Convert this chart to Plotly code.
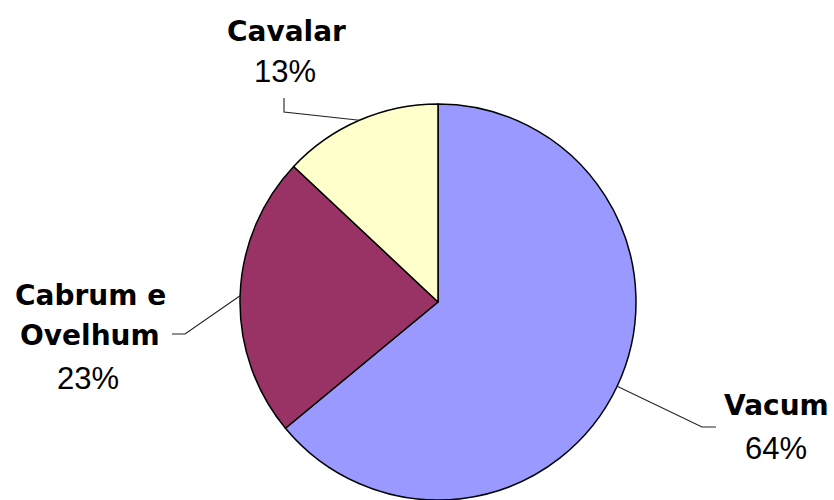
import math
import plotly.graph_objects as go

# ---- data ----
categories = ["Vacum", "Cabrum e<br>Ovelhum", "Cavalar"]
values = [64, 23, 13]
pct_labels = ["64%", "23%", "13%"]
colors = ["#9999FF", "#993366", "#FFFFCC"]

# ---- layout constants (pixels) ----
W, H = 834, 500
R = 198
CX = 438
CY = H - R  # pie sits on the bottom edge
dom_x = [(CX - R) / W, (CX + R) / W]
dom_y = [0, 2 * R / H]
LINE_GAP = 40

# label anchors (px) : first name line centre, percent centre, elbow point, tail end
name_pos = [(776, 405), (90, 295), (286, 31)]
pct_pos = [(776, 448), (88, 378), (285, 71)]
elbow = [(702, 427), (185, 334), (284, 112)]
tail = [(716, 427), (172, 334), (284, 98)]


def px2paper(x, y):
    return x / W, 1 - y / H


fig = go.Figure(go.Pie(
    labels=categories,
    values=values,
    sort=False,
    direction="clockwise",
    rotation=0,
    marker=dict(colors=colors, line=dict(color="black", width=1.5)),
    textinfo="none",
    hoverinfo="label+percent",
    domain=dict(x=dom_x, y=dom_y),
    showlegend=False,
))

total = sum(values)
cum = 0
annotations = []
shapes = []
for i, v in enumerate(values):
    mid = (cum + v / 2) / total * 2 * math.pi
    cum += v
    sx = CX + R * math.sin(mid)
    sy = CY - R * math.cos(mid)
    pts = [(sx, sy), elbow[i], tail[i]]
    path = ""
    for j, (x, y) in enumerate(pts):
        px_, py_ = px2paper(x, y)
        path += ("M" if j == 0 else " L") + f" {px_:.5f} {py_:.5f}"
    shapes.append(dict(type="path", xref="paper", yref="paper", path=path,
                       line=dict(color="#222222", width=1.1)))
    for k, line in enumerate(categories[i].split("<br>")):
        nx, ny = px2paper(name_pos[i][0], name_pos[i][1] + k * LINE_GAP)
        annotations.append(dict(x=nx, y=ny, xref="paper", yref="paper",
                                text="<b>" + line + "</b>", showarrow=False,
                                xanchor="center", yanchor="middle",
                                font=dict(family="DejaVu Sans", size=28, color="black")))
    qx, qy = px2paper(*pct_pos[i])
    annotations.append(dict(x=qx, y=qy, xref="paper", yref="paper",
                            text=pct_labels[i], showarrow=False,
                            xanchor="center", yanchor="middle",
                            font=dict(family="Liberation Sans", size=31, color="black")))

fig.update_layout(
    width=W, height=H,
    margin=dict(l=0, r=0, t=0, b=0),
    paper_bgcolor="white",
    plot_bgcolor="white",
    annotations=annotations,
    shapes=shapes,
)

fig.write_html("out.html", config={"displayModeBar": False},
               post_script="document.body.style.margin='0';")
